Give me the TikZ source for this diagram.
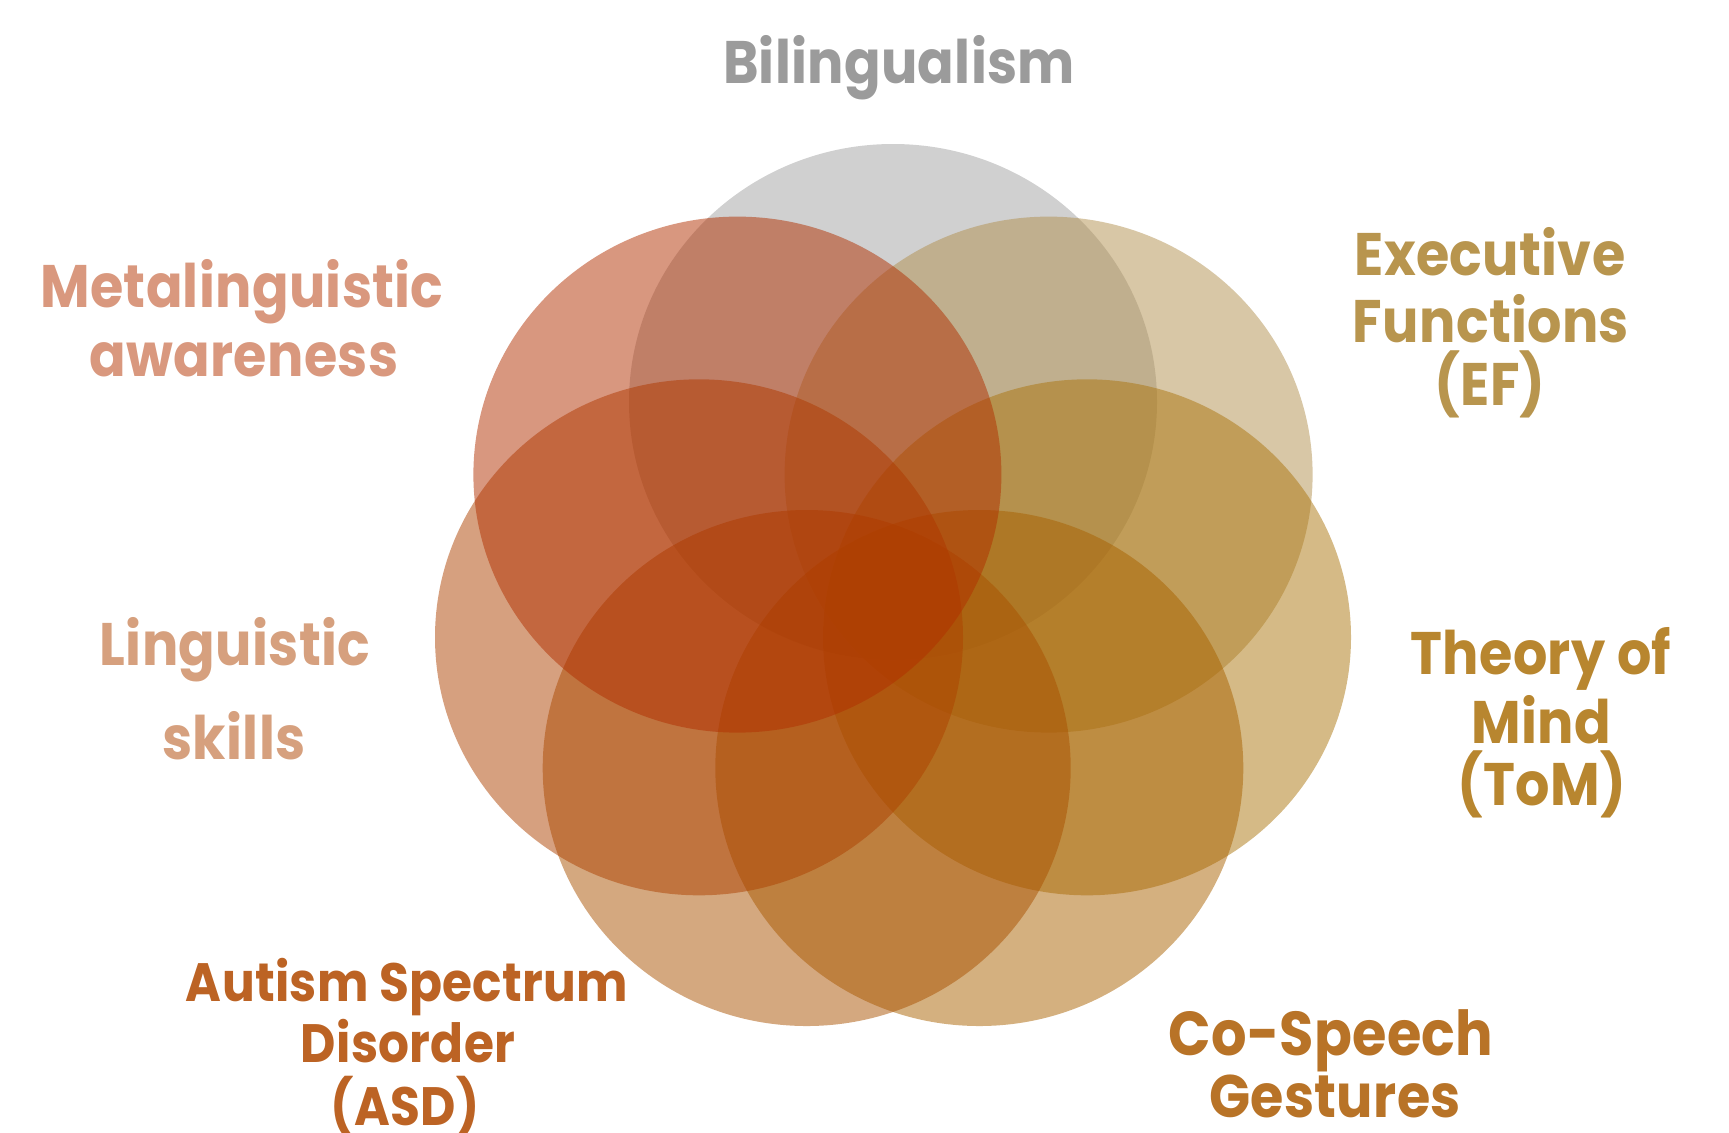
\documentclass[tikz,border=0pt]{standalone}
\usepackage{fontspec}
\setmainfont{Poppins}[FakeStretch=0.9, LetterSpace=0.5]
\usetikzlibrary{positioning}

\definecolor{bilgray}{RGB}{161,161,161}
\definecolor{metared}{RGB}{177,47,0}
\definecolor{efgold}{RGB}{177,143,77}
\definecolor{lingred}{RGB}{173,65,0}
\definecolor{tomgold}{RGB}{171,117,13}
\definecolor{asdorange}{RGB}{169,81,0}
\definecolor{csgorange}{RGB}{169,97,0}

\definecolor{biltext}{RGB}{155,155,155}
\definecolor{metatext}{RGB}{217,152,126}
\definecolor{eftext}{RGB}{184,149,78}
\definecolor{lingtext}{RGB}{214,160,126}
\definecolor{tomtext}{RGB}{184,134,47}
\definecolor{asdtext}{RGB}{188,99,36}
\definecolor{csgtext}{RGB}{184,115,39}

\begin{document}
\begin{tikzpicture}[
  x=0.5pt, y=-0.5pt,
  blob/.style={fill opacity=0.5},
  lbl/.style={anchor=base, inner sep=0pt, font=\fontsize{30}{36}\selectfont\bfseries},
  small lbl/.style={lbl, font=\fontsize{27}{32}\selectfont\bfseries}
]
\useasboundingbox (0,0) rectangle (1729,1132);

% circles
\fill[blob, bilgray]   (893,402)     ellipse [x radius=264, y radius=258];
\fill[blob, efgold]    (1048.6,474.6) ellipse [x radius=264, y radius=258];
\fill[blob, tomgold]   (1087,637.3)  ellipse [x radius=264, y radius=258];
\fill[blob, csgorange] (979.3,768)   ellipse [x radius=264, y radius=258];
\fill[blob, asdorange] (806.7,768)   ellipse [x radius=264, y radius=258];
\fill[blob, lingred]   (699,637.3)   ellipse [x radius=264, y radius=258];
\fill[blob, metared]   (737.4,474.6) ellipse [x radius=264, y radius=258];

% labels
\node[lbl, biltext] (bil) at (899,83) {Bilingualism};

\node[lbl, metatext] (meta1) at (242,307) {Metalinguistic};
\node[lbl, metatext] (meta2) at (244,376) {awareness};

\node[lbl, eftext] (ef1) at (1490,275) {Executive};
\node[lbl, eftext] (ef2) at (1491,342) {Functions};
\node[lbl, eftext] (ef3) at (1490,405) {(EF)};

\node[lbl, lingtext] (ling1) at (235,665) {Linguistic};
\node[lbl, lingtext] (ling2) at (234,759) {skills};

\node[lbl, tomtext] (tom1) at (1541,674) {Theory of};
\node[lbl, tomtext] (tom2) at (1541,743) {Mind};
\node[lbl, tomtext] (tom3) at (1542,805) {(ToM)};

\node[small lbl, asdtext] (asd1) at (407,1001) {Autism Spectrum};
\node[small lbl, asdtext] (asd2) at (408,1062) {Disorder};
\node[small lbl, asdtext] (asd3) at (405,1125) {(ASD)};

\node[lbl, csgtext, font=\fontsize{31}{36}\selectfont\bfseries] (csg1) at (1331,1055) {Co-Speech};
\node[lbl, csgtext] (csg2) at (1335,1117) {Gestures};

\end{tikzpicture}
\end{document}
